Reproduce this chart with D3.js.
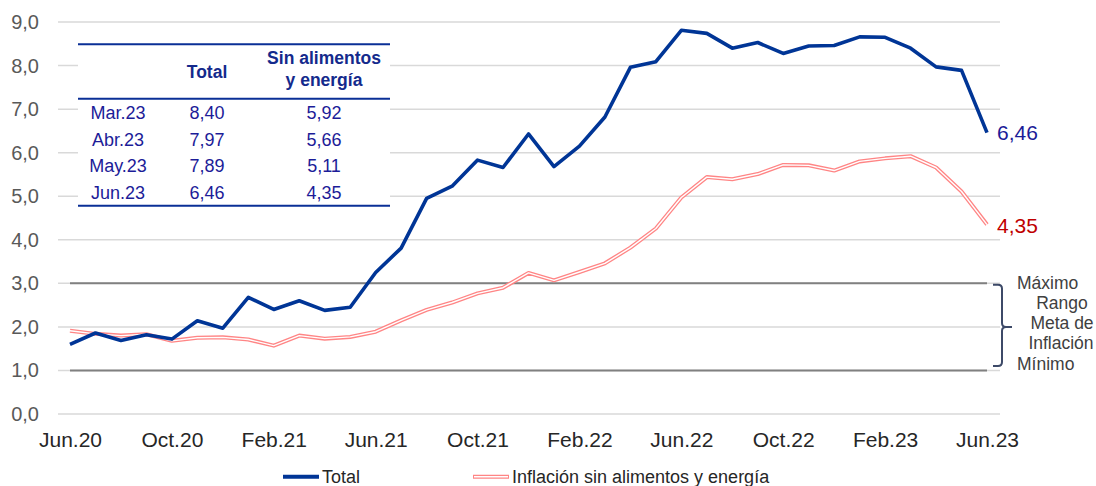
<!DOCTYPE html>
<html>
<head>
<meta charset="utf-8">
<script src="https://cdn.jsdelivr.net/npm/d3@7"></script>
<style>
  html, body { margin: 0; padding: 0; background: #fff; }
  svg { display: block; font-family: "Liberation Sans", Arial, sans-serif; }
</style>
</head>
<body>
<svg id="chart" width="1096" height="486"></svg>
<script>
// ---- data ----
const months = [
  "Jun.20","Jul.20","Ago.20","Set.20","Oct.20","Nov.20","Dic.20",
  "Ene.21","Feb.21","Mar.21","Abr.21","May.21","Jun.21","Jul.21","Ago.21","Set.21","Oct.21","Nov.21","Dic.21",
  "Ene.22","Feb.22","Mar.22","Abr.22","May.22","Jun.22","Jul.22","Ago.22","Set.22","Oct.22","Nov.22","Dic.22",
  "Ene.23","Feb.23","Mar.23","Abr.23","May.23","Jun.23"
];
const total = [
  1.60, 1.86, 1.69, 1.82, 1.72, 2.14, 1.97,
  2.68, 2.40, 2.60, 2.38, 2.45, 3.25, 3.81, 4.95, 5.23, 5.83, 5.66, 6.43,
  5.68, 6.15, 6.82, 7.96, 8.09, 8.81, 8.74, 8.40, 8.53, 8.28, 8.45, 8.46,
  8.66, 8.65, 8.40, 7.97, 7.89, 6.46
];
const core = [
  1.91, 1.84, 1.80, 1.83, 1.68, 1.75, 1.76,
  1.71, 1.57, 1.80, 1.73, 1.77, 1.89, 2.15, 2.39, 2.56, 2.77, 2.90, 3.24,
  3.07, 3.26, 3.46, 3.82, 4.26, 4.97, 5.44, 5.39, 5.51, 5.72, 5.71, 5.59,
  5.80, 5.87, 5.92, 5.66, 5.11, 4.35
];
const xTickLabels = ["Jun.20","Oct.20","Feb.21","Jun.21","Oct.21","Feb.22","Jun.22","Oct.22","Feb.23","Jun.23"];
const yTicks = [0,1,2,3,4,5,6,7,8,9];
const targetMax = 3.0;
const targetMin = 1.0;
const targetLabels = ["Máximo","Rango","Meta de","Inflación","Mínimo"];
const tableRows = ["Mar.23","Abr.23","May.23","Jun.23"];
const tableHeaders = ["Total", ["Sin alimentos","y energía"]];
const seriesNames = ["Total","Inflación sin alimentos y energía"];

// ---- styles ----
const BLUE = "#003596";
const PINK = "#ff8585";
const NAVY_TXT = "#1c1c98";
const RED_TXT = "#c00000";

const fmt = v => v.toFixed(2).replace(".", ",");
const fmt1 = v => v.toFixed(1).replace(".", ",");

const svg = d3.select("#chart");

const x = d3.scalePoint().domain(months).range([70, 987]);
const y = d3.scaleLinear().domain([0, 9]).range([414, 22.05]);
const gridX0 = 58, gridX1 = 1000;

// gridlines
svg.append("g").selectAll("line").data(yTicks).join("line")
  .attr("x1", gridX0).attr("x2", gridX1)
  .attr("y1", d => y(d)).attr("y2", d => y(d))
  .attr("stroke", "#d9d9d9").attr("stroke-width", 1.5);

// target range lines (Máximo / Mínimo)
svg.append("g").selectAll("line").data([targetMax, targetMin]).join("line")
  .attr("x1", x(months[0])).attr("x2", x(months[months.length - 1]))
  .attr("y1", d => y(d)).attr("y2", d => y(d))
  .attr("stroke", "#808080").attr("stroke-width", 2);

// y axis
const yAxis = svg.append("g").attr("transform", `translate(${gridX0},0)`)
  .call(d3.axisLeft(y).tickValues(yTicks).tickFormat(fmt1).tickSize(0).tickPadding(19));
yAxis.select(".domain").remove();
yAxis.selectAll("text").attr("font-size", 20).attr("fill", "#595959")
  .attr("font-family", "Liberation Sans, Arial, sans-serif");

// x axis
const xAxis = svg.append("g").attr("transform", `translate(0,${y(0)})`)
  .call(d3.axisBottom(x).tickValues(xTickLabels).tickSize(0).tickPadding(18));
xAxis.select(".domain").remove();
xAxis.selectAll("text").attr("font-size", 21).attr("fill", "#262626")
  .attr("font-family", "Liberation Sans, Arial, sans-serif");

// table
const tX0 = 78, tX1 = 390;
const colX = [118, 207, 324];
const tbl = svg.append("g");
tbl.append("rect").attr("x", tX0).attr("y", 40).attr("width", tX1 - tX0).attr("height", 168).attr("fill", "#fff");
tbl.selectAll("line.hl").data([44.3, 98.7, 205.7]).join("line")
  .attr("x1", tX0).attr("x2", tX1).attr("y1", d => d).attr("y2", d => d)
  .attr("stroke", "#0a2f96").attr("stroke-width", 2);
tbl.append("text").attr("x", colX[1]).attr("y", 77.5).attr("text-anchor", "middle")
  .attr("font-size", 17.5).attr("font-weight", "bold").attr("fill", "#142a8c").text(tableHeaders[0]);
tbl.selectAll("text.h2").data(tableHeaders[1]).join("text").attr("class", "h2")
  .attr("x", colX[2]).attr("y", (d, i) => 64 + i * 22).attr("text-anchor", "middle")
  .attr("font-size", 17.5).attr("font-weight", "bold").attr("fill", "#142a8c").text(d => d);
const lastIdx = tableRows.map(m => months.indexOf(m));
const rowG = tbl.selectAll("g.row").data(lastIdx).join("g").attr("class", "row")
  .attr("transform", (d, i) => `translate(0,${119 + i * 26.7})`);
rowG.append("text").attr("x", colX[0]).attr("text-anchor", "middle").attr("font-size", 18)
  .attr("fill", NAVY_TXT).text((d, i) => tableRows[i]);
rowG.append("text").attr("x", colX[1]).attr("text-anchor", "middle").attr("font-size", 18)
  .attr("fill", NAVY_TXT).text(d => fmt(total[d]));
rowG.append("text").attr("x", colX[2]).attr("text-anchor", "middle").attr("font-size", 18)
  .attr("fill", NAVY_TXT).text(d => fmt(core[d]));

// lines
const line = d3.line().x((d, i) => x(months[i])).y(d => y(d));
svg.append("path").datum(core).attr("d", line).attr("fill", "none")
  .attr("stroke", PINK).attr("stroke-width", 4).attr("stroke-linejoin", "round");
svg.append("path").datum(core).attr("d", line).attr("fill", "none")
  .attr("stroke", "#fff").attr("stroke-width", 1.4).attr("stroke-linejoin", "round");
svg.append("path").datum(total).attr("d", line).attr("fill", "none")
  .attr("stroke", BLUE).attr("stroke-width", 3.6).attr("stroke-linejoin", "round");

// end labels
const last = months.length - 1;
svg.append("text").attr("x", x(months[last]) + 10).attr("y", y(total[last]) + 7.5)
  .attr("font-size", 21).attr("fill", NAVY_TXT).text(fmt(total[last]));
svg.append("text").attr("x", x(months[last]) + 10).attr("y", y(core[last]) + 8)
  .attr("font-size", 21).attr("fill", RED_TXT).text(fmt(core[last]));

// bracket
const bTop = y(targetMax) + 1.5, bBot = y(targetMin) - 4.5, bMid = y((targetMax + targetMin) / 2);
const bx = 1002;
svg.append("path")
  .attr("d", `M993,${bTop} L998,${bTop} Q${bx},${bTop} ${bx},${bTop + 4} L${bx},${bMid - 4} Q${bx},${bMid} ${bx + 4},${bMid} L${bx + 10},${bMid}
              M${bx + 4},${bMid} Q${bx},${bMid} ${bx},${bMid + 4} L${bx},${bBot - 4} Q${bx},${bBot} 998,${bBot} L993,${bBot}`)
  .attr("fill", "none").attr("stroke", "#3d4a68").attr("stroke-width", 2);

// annotation text
const annPos = [
  {x: 1017, y: 289, a: "start"},
  {x: 1062, y: 309, a: "middle"},
  {x: 1062, y: 329, a: "middle"},
  {x: 1061, y: 349, a: "middle"},
  {x: 1017, y: 370, a: "start"}
];
svg.append("g").selectAll("text").data(targetLabels).join("text")
  .attr("x", (d, i) => annPos[i].x).attr("y", (d, i) => annPos[i].y)
  .attr("text-anchor", (d, i) => annPos[i].a)
  .attr("font-size", 17.5).attr("fill", "#404040").text(d => d);

// legend
const lg = svg.append("g");
lg.append("line").attr("x1", 283).attr("x2", 319).attr("y1", 476.7).attr("y2", 476.7)
  .attr("stroke", BLUE).attr("stroke-width", 4);
lg.append("text").attr("x", 322).attr("y", 482.5).attr("font-size", 18).attr("fill", "#262626").text(seriesNames[0]);
lg.append("line").attr("x1", 473).attr("x2", 509).attr("y1", 476.7).attr("y2", 476.7)
  .attr("stroke", PINK).attr("stroke-width", 4);
lg.append("line").attr("x1", 474).attr("x2", 508).attr("y1", 476.7).attr("y2", 476.7)
  .attr("stroke", "#fff").attr("stroke-width", 1.4);
lg.append("text").attr("x", 512).attr("y", 482.5).attr("font-size", 18).attr("fill", "#262626").text(seriesNames[1]);
</script>
</body>
</html>
